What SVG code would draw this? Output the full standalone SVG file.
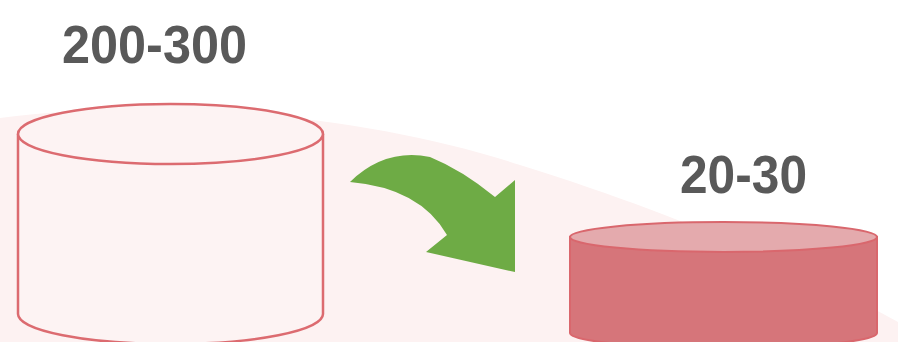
<svg xmlns="http://www.w3.org/2000/svg" width="898" height="342" viewBox="0 0 898 342">
<style>
.lbl{font-family:"Liberation Sans",Arial,sans-serif;font-weight:bold;font-size:53px;fill:#595959}
.big{fill:#fdf3f3;stroke:#dc6b70;stroke-width:2.5}
.small{stroke:#d9676d;stroke-width:2}
</style>
<rect width="898" height="342" fill="#ffffff"/>
<path d="M0,118 C150,98 360,112 520,165 C680,215 800,268 898,322 L898,342 L0,342 Z" fill="#fdf2f2"/>
<g id="label-large"><text class="lbl" x="62" y="63" textLength="185" lengthAdjust="spacingAndGlyphs">200-300</text></g>
<g id="label-small"><text class="lbl" x="680" y="193" textLength="127" lengthAdjust="spacingAndGlyphs">20-30</text></g>
<g id="cylinder-large">
<path class="big" d="M18,134 L18,314 A152.5,30 0 0 0 323,314 L323,134"/>
<ellipse class="big" cx="170.5" cy="134" rx="152.5" ry="30"/>
</g>
<g id="cylinder-small">
<path class="small" fill="#d6757a" d="M570,237 L570,333 A153.5,15 0 0 0 877,333 L877,237 Z"/>
<ellipse class="small" fill="#e4aaad" cx="723.5" cy="237" rx="153.5" ry="15"/>
</g>
<g id="connectors">
<path d="M350,182 Q385,148 430,157 Q462,170 495,197 L515,180 L515,272 L426,252 L447,235 Q420,188 350,182 Z" fill="#6eab45"/>
</g>
</svg>
